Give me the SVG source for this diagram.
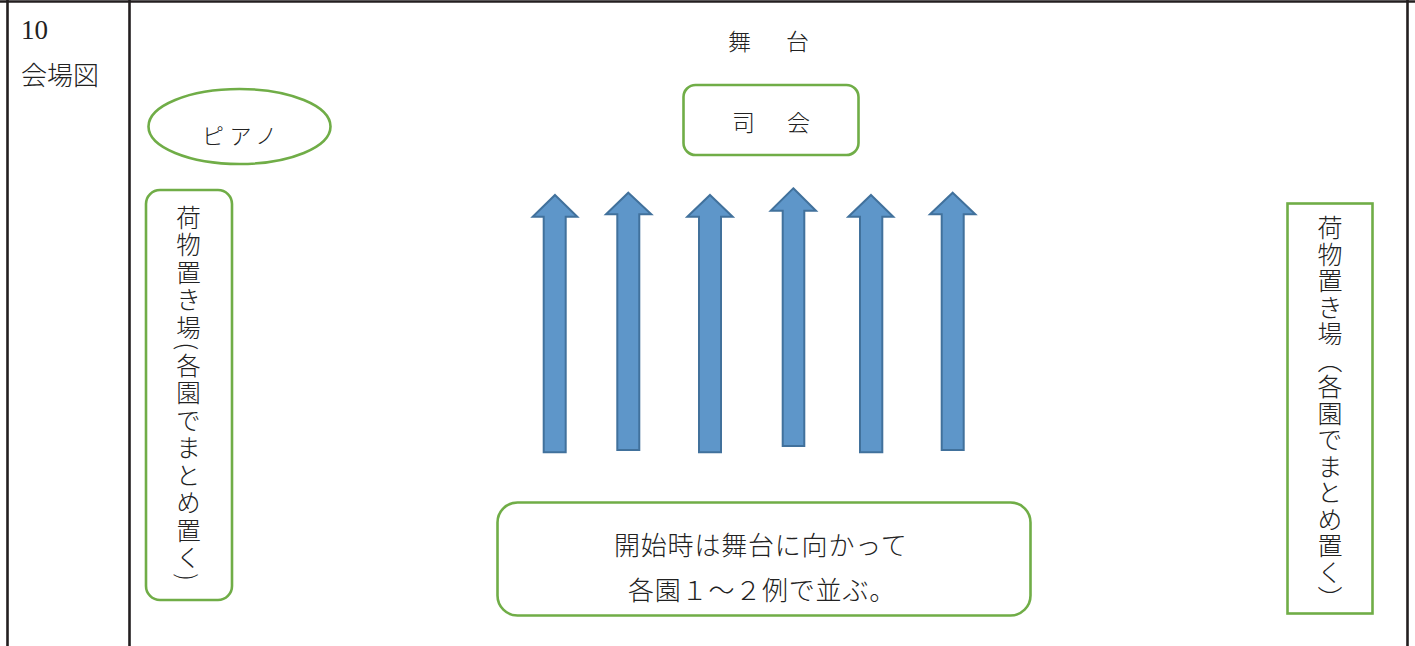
<svg xmlns="http://www.w3.org/2000/svg" width="1415" height="646" viewBox="0 0 1415 646">
<style>
.grid{stroke:#231f20;stroke-width:2.6;fill:none}
.box{fill:#ffffff;stroke:#70ad47;stroke-width:2.6}
.arrow{fill:#5e96c9;stroke:#41719c;stroke-width:2}
.t{font-family:"Noto Sans CJK JP","Noto Sans",sans-serif;fill:#222;font-weight:300}
.num{font-family:"Liberation Serif",serif;fill:#222}
.v{writing-mode:vertical-rl;font-family:"Noto Sans CJK JP",sans-serif;fill:#222;font-weight:300}
</style>
<rect width="1415" height="646" fill="#ffffff"/>
<g id="table">
<line class="grid" x1="0" y1="1.5" x2="1415" y2="1.5"/>
<line class="grid" x1="7.5" y1="0" x2="7.5" y2="646"/>
<line class="grid" x1="129.5" y1="0" x2="129.5" y2="646"/>
<line class="grid" x1="1407.5" y1="0" x2="1407.5" y2="646"/>
<text class="num" x="21" y="38.5" font-size="27">10</text>
<text class="t" x="21" y="85" font-size="26">会場図</text>
</g>
<g id="stage">
<text class="t" x="728" y="50" font-size="23">舞</text>
<text class="t" x="786" y="50" font-size="23">台</text>
</g>
<g id="mc">
<rect class="box" x="683.5" y="85" width="175" height="70" rx="12"/>
<text class="t" x="732" y="131" font-size="23">司</text>
<text class="t" x="787" y="131" font-size="23">会</text>
</g>
<g id="piano">
<ellipse class="box" cx="239.5" cy="126.5" rx="91" ry="37.5"/>
<text class="t" x="202" y="144" font-size="22" letter-spacing="5.5">ピアノ</text>
</g>
<g id="storage-left">
<rect class="box" x="146" y="190" width="86" height="410" rx="14"/>
<text class="v" x="188.5" y="205" font-size="24.5" letter-spacing="3">荷物置き場(各園でまとめ置く)</text>
</g>
<g id="storage-right">
<rect class="box" x="1287.5" y="203.5" width="85" height="410"/>
<text class="v" x="1330" y="215" font-size="25" letter-spacing="1.5">荷物置き場（各園でまとめ置く）</text>
</g>
<g id="rows">
<polygon class="arrow" points="555,195 577.3,216.7 565.7,216.7 565.7,452.3 543.7,452.3 543.7,216.7 532.7,216.7"/>
<polygon class="arrow" points="628.3,192.7 651.3,214.3 639.3,214.3 639.3,450 617.3,450 617.3,214.3 606,214.3"/>
<polygon class="arrow" points="710,195 732.7,216.7 721,216.7 721,452.3 699,452.3 699,216.7 687.3,216.7"/>
<polygon class="arrow" points="793.3,188.3 816,210.7 804.3,210.7 804.3,446 782.7,446 782.7,210.7 770.7,210.7"/>
<polygon class="arrow" points="871,195 893.3,216.7 882.3,216.7 882.3,452.3 860,452.3 860,216.7 848.3,216.7"/>
<polygon class="arrow" points="952.7,192.7 975.3,214.3 963.7,214.3 963.7,450 941.7,450 941.7,214.3 930,214.3"/>
</g>
<g id="note">
<rect class="box" x="497.5" y="502.5" width="533" height="113" rx="20"/>
<text class="t" x="614" y="555" font-size="26" letter-spacing="0.8">開始時は舞台に向かって</text>
<text class="t" x="628" y="600" font-size="26" letter-spacing="0.8">各園１～２例で並ぶ。</text>
</g>
</svg>
